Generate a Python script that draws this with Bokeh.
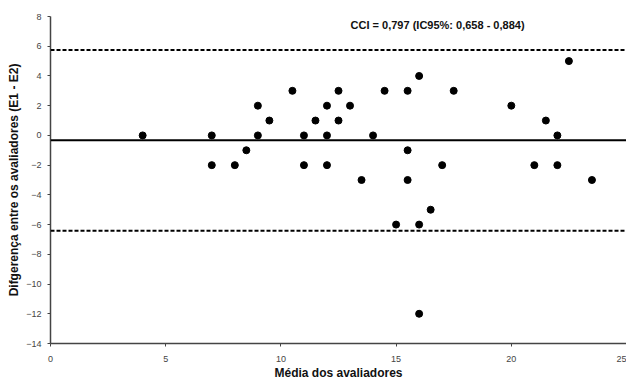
from bokeh.plotting import figure
from bokeh.models import ColumnDataSource, Span, Label, FixedTicker, Range1d
from bokeh.embed import file_html
from bokeh.resources import INLINE

media = [4, 7, 7, 8, 8.5, 9, 9, 9.5, 10.5, 11, 11, 11.5, 12, 12, 12, 12.5, 12.5, 13,
         13.5, 14, 14.5, 15, 15.5, 15.5, 15.5, 16, 16, 16, 16.5, 17, 17.5, 20, 21,
         21.5, 22, 22, 22.5, 23.5]
diferenca = [0, 0, -2, -2, -1, 2, 0, 1, 3, 0, -2, 1, 2, 0, -2, 3, 1, 2,
             -3, 0, 3, -6, 3, -1, -3, 4, -6, -12, -5, -2, 3, 2, -2,
             1, 0, -2, 5, -3]
media_diff = -0.33
limite_sup = 5.75
limite_inf = -6.42
x_ticks = [0, 5, 10, 15, 20, 25]
y_ticks = [-14, -12, -10, -8, -6, -4, -2, 0, 2, 4, 6, 8]
anotacao = "CCI = 0,797 (IC95%: 0,658 - 0,884)"

src = ColumnDataSource(data=dict(x=media, y=diferenca))

p = figure(width=626, height=382, output_backend="svg", toolbar_location=None,
           x_range=Range1d(0, 25), y_range=Range1d(-14, 8),
           min_border_left=50, min_border_right=0, min_border_top=16, min_border_bottom=36)
p.outline_line_color = None
p.xgrid.visible = False
p.ygrid.visible = False

for ax in (p.xaxis[0], p.yaxis[0]):
    ax.axis_line_color = "#444444"
    ax.axis_line_width = 1.5
    ax.major_tick_line_color = "#444444"
    ax.major_tick_out = 3
    ax.major_tick_in = 0
    ax.minor_tick_line_color = None
    ax.major_label_text_font = "Liberation Sans"
    ax.major_label_text_font_size = "9px"
    ax.major_label_text_color = "#444444"
    ax.axis_label_text_font = "Liberation Sans"
    ax.axis_label_text_font_size = "12px"
    ax.axis_label_text_font_style = "bold"
    ax.axis_label_text_color = "#111111"

p.xaxis.ticker = FixedTicker(ticks=x_ticks)
p.yaxis.ticker = FixedTicker(ticks=y_ticks)
p.xaxis.axis_label = "Média dos avaliadores"
p.yaxis.axis_label = "Difgerença entre os avaliadores (E1 - E2)"
p.xaxis.major_label_standoff = 9
p.xaxis.axis_label_standoff = 1
p.yaxis.major_label_standoff = 6
p.yaxis.axis_label_standoff = 2

p.add_layout(Span(location=limite_sup, dimension="width", line_color="black",
                  line_width=2, line_dash="4 2"))
p.add_layout(Span(location=limite_inf, dimension="width", line_color="black",
                  line_width=2, line_dash="4 2"))
p.add_layout(Span(location=media_diff, dimension="width", line_color="black",
                  line_width=2))

p.scatter("x", "y", source=src, size=7, color="black")

p.add_layout(Label(x=16.8, y=7.4, text=anotacao, text_align="center",
                   text_baseline="middle", text_font="Liberation Sans",
                   text_font_size="11px", text_font_style="bold", text_color="#111111"))

open("out.html", "w").write(file_html(p, INLINE))
